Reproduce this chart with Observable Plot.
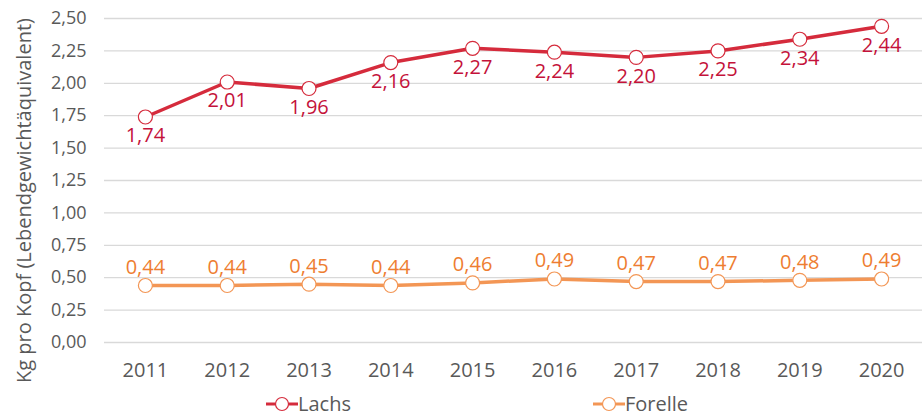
<!DOCTYPE html>
<html><head><meta charset="utf-8">
<script src="https://cdn.jsdelivr.net/npm/d3@7"></script>
<script src="https://cdn.jsdelivr.net/npm/@observablehq/plot@0.6"></script>
<style>
body{margin:0;background:#fff;font-family:"Open Sans",sans-serif;}
#wrap{position:relative;width:924px;height:416px;overflow:hidden;}
.leg{position:absolute;top:390px;height:28px;display:flex;align-items:center;font-size:20px;color:#595959;line-height:28px;}
.leg svg{display:block;}
</style></head><body>
<div id="wrap"><div id="chart"></div>
<div class="leg" style="left:266px"><svg width="32" height="20"><line x1="0" y1="10" x2="32" y2="10" stroke="#d52b3c" stroke-width="3"/><circle cx="16" cy="10" r="6.5" fill="#fff" stroke="#d52b3c" stroke-width="1.2"/></svg><span>Lachs</span></div>
<div class="leg" style="left:593px"><svg width="32" height="20"><line x1="0" y1="10" x2="32" y2="10" stroke="#f39655" stroke-width="3"/><circle cx="16" cy="10" r="6.5" fill="#fff" stroke="#f39655" stroke-width="1.2"/></svg><span>Forelle</span></div>
</div>
<script>
const years = ["2011","2012","2013","2014","2015","2016","2017","2018","2019","2020"];
const lachs = [1.74, 2.01, 1.96, 2.16, 2.27, 2.24, 2.20, 2.25, 2.34, 2.44];
const forelle = [0.44, 0.44, 0.45, 0.44, 0.46, 0.49, 0.47, 0.47, 0.48, 0.49];
const yTicks = [0, 0.25, 0.5, 0.75, 1, 1.25, 1.5, 1.75, 2, 2.25, 2.5];
const yTitle = "Kg pro Kopf (Lebendgewichtäquivalent)";
const seriesNames = ["Lachs", "Forelle"];

const rows = [];
years.forEach((yr, i) => {
  rows.push({year: yr, series: "Lachs", value: lachs[i]});
  rows.push({year: yr, series: "Forelle", value: forelle[i]});
});
const fmt = v => v.toFixed(2).replace(".", ",");
const lachsRows = rows.filter(d => d.series === "Lachs");
const forelleRows = rows.filter(d => d.series === "Forelle");

const red = "#d52b3c", redText = "#c4123a", orange = "#f39655", orangeText = "#ee7d31";

const chart = Plot.plot({
  width: 924, height: 388,
  marginLeft: 104, marginRight: 2, marginTop: 18, marginBottom: 46,
  style: {fontFamily: "'Open Sans', sans-serif", background: "#fff", overflow: "visible"},
  x: {type: "point", domain: years, padding: 0.5, round: false, label: null},
  y: {domain: [0, 2.5], label: null},
  marks: [
    Plot.gridY(yTicks, {stroke: "#d9d9d9", strokeOpacity: 1, strokeWidth: 1.3}),
    Plot.axisY(yTicks, {tickSize: 0, tickPadding: 18, fontSize: 18, fill: "#595959", label: null, tickFormat: fmt}),
    Plot.axisX({tickSize: 0, tickPadding: 20, fontSize: 20, fill: "#595959", label: null}),
    Plot.text([yTitle], {frameAnchor: "left", text: d => d, rotate: -90, dx: -80, dy: 20, fontSize: 20, fill: "#595959", textAnchor: "middle"}),
    Plot.line(lachsRows, {x: "year", y: "value", stroke: red, strokeWidth: 3.5}),
    Plot.line(forelleRows, {x: "year", y: "value", stroke: orange, strokeWidth: 3.5}),
    Plot.text(lachsRows, {x: "year", y: "value", text: d => fmt(d.value), dy: 19, fill: redText, fontSize: 20}),
    Plot.text(forelleRows, {x: "year", y: "value", text: d => fmt(d.value), dy: -18, fill: orangeText, fontSize: 20}),
    Plot.dot(lachsRows, {x: "year", y: "value", r: 7, fill: "#fff", stroke: red, strokeWidth: 1.2}),
    Plot.dot(forelleRows, {x: "year", y: "value", r: 7, fill: "#fff", stroke: orange, strokeWidth: 1.2})
  ]
});
document.getElementById("chart").appendChild(chart);
</script>
</body></html>
